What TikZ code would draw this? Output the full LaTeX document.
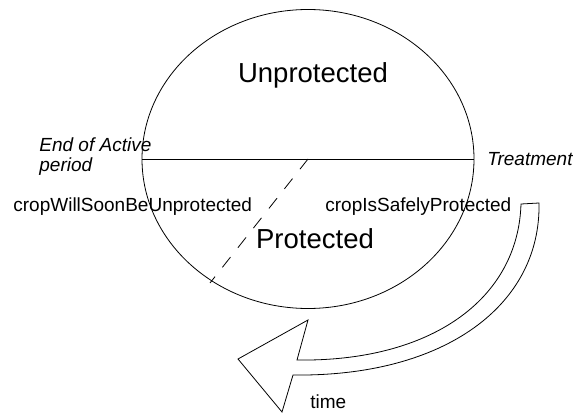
\documentclass[tikz,border=0pt]{standalone}
\usepackage{fontspec}
\setmainfont{Liberation Sans}
\usepackage{tikz}

\begin{document}
\begin{tikzpicture}[x=1pt,y=-1pt,line width=0.8pt,
  lbl/.style={inner sep=0pt,font=\fontsize{19}{20}\selectfont},
  big/.style={inner sep=0pt,font=\fontsize{27.5}{30}\selectfont}]
\useasboundingbox (0,0) rectangle (573,414);
\def\rx{166}
\def\ry{149.5}
\coordinate (c) at (308,159);
\coordinate (w) at (308-\rx,159);
\coordinate (e) at (308+\rx,159);
\coordinate (cut) at (210,283);
\draw (c) ellipse ({\rx} and {\ry});
\draw (w) -- (e);
\draw[dash pattern=on 13pt off 12pt] (c) -- (cut);
% labels
\node[big,anchor=base] (unprot) at (313,83) {Unprotected};
\node[big,anchor=base] (prot) at (315,249) {Protected};
\node[lbl,anchor=base west,align=left,font=\fontsize{19}{20}\selectfont\itshape] (endact) at (39,172) {End of Active\\period};
\node[lbl,anchor=base west,font=\fontsize{19}{20}\selectfont\itshape] (treat) at (487,166) {Treatment};
\node[lbl,anchor=base west] (soon) at (13,212) {cropWillSoonBeUnprotected};
\node[lbl,anchor=base west] (safe) at (325,212) {cropIsSafelyProtected};
\node[lbl,anchor=base west] (time) at (310,408) {time};
% curved block arrow
\draw (521,204) -- (539,203) .. controls (541,305) and (445,377) .. (293,375)
  -- (282,412) -- (238,359) -- (308,320) -- (297,360)
  .. controls (430,362) and (518,300) .. (521,204) -- cycle;
\end{tikzpicture}
\end{document}
